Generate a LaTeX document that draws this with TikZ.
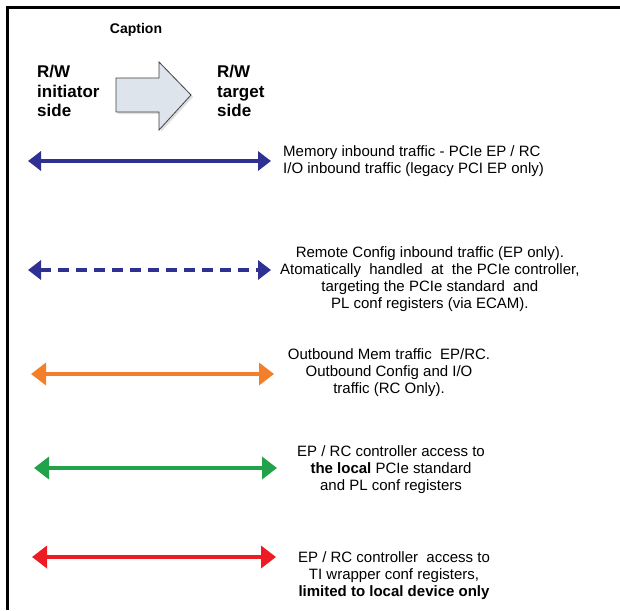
\documentclass[tikz,border=0pt]{standalone}
\usepackage{fontspec}
\setmainfont{Liberation Sans}
\usepackage{tikz}
\usetikzlibrary{positioning, arrows.meta, calc}
\usepackage{xcolor}
\definecolor{trblue}{HTML}{2E3192}
\definecolor{trorange}{HTML}{F47F2A}
\definecolor{trgreen}{HTML}{22A24A}
\definecolor{trred}{HTML}{ED1C24}
\definecolor{capfill}{HTML}{DDE4EB}

\begin{document}
\begin{tikzpicture}[x=1pt, y=-1pt,
    legtext/.style={font=\fontsize{15}{17}\selectfont, inner sep=0pt, align=center},
    rwlabel/.style={font=\fontsize{17}{19.5}\selectfont\bfseries, inner sep=0pt,
                    anchor=west, align=left},
    traffic/.style={line width=3.6pt, {Triangle[length=13pt, width=19pt]}-{Triangle[length=13pt, width=19pt]}},
    bigtraffic/.style={line width=3.6pt, {Triangle[length=15pt, width=22pt]}-{Triangle[length=15pt, width=22pt]}}]
        \useasboundingbox (0,0) rectangle (620,610);
        % frame
        \draw[line width=2.3pt] (620,7.5) -- (7.5,7.5) -- (7.5,610);

        % caption block
        \node[font=\fontsize{14}{16}\selectfont\bfseries, inner sep=0pt] (cap) at (136,30) {Caption};
        \node[rwlabel] (init) at (37,91) {R/W\\initiator\\side};
        \node[rwlabel] (targ) at (217,91) {R/W\\target\\side};
        \fill[gray!25] (118,80) -- (161,80) -- (161,64) -- (193,97) -- (161,132) -- (161,114) -- (118,114) -- cycle;
        \draw[fill=capfill, draw=gray!50!black, line width=0.8pt]
              (116,78) -- (159,78) -- (159,62) -- (191,95) -- (159,130) -- (159,112) -- (116,112) -- cycle;

        % memory inbound
        \coordinate (memL) at (28,161);
        \coordinate (memR) at (271,161);
        \draw[traffic, trblue] (memL) -- (memR);
        \node[legtext, anchor=west, align=left] (memtxt) at (283,161)
              {Memory inbound traffic - PCIe EP / RC\\I/O inbound traffic (legacy PCI EP only)};

        % remote config
        \coordinate (cfgL) at (28,270);
        \coordinate (cfgR) at (271,270);
        \draw[traffic, trblue, dash pattern=on 11pt off 7pt] (cfgL) -- (cfgR);
        \node[legtext, anchor=west] (cfgtxt) at (280,279.5)
              {Remote Config inbound traffic (EP only).\\
               Atomatically\ \ handled\ \ at\ \ the PCIe controller,\\
               targeting the PCIe standard\ \ and\\
               PL conf registers (via ECAM).};

        % outbound
        \coordinate (outL) at (31,374);
        \coordinate (outR) at (274,374);
        \draw[bigtraffic, trorange] (outL) -- (outR);
        \node[legtext] (outtxt) at (389,373)
              {Outbound Mem traffic\ \ EP/RC.\\Outbound Config and I/O\\traffic (RC Only).};

        % local conf
        \coordinate (locL) at (34,468);
        \coordinate (locR) at (277,468);
        \draw[bigtraffic, trgreen] (locL) -- (locR);
        \node[legtext] (loctxt) at (391,470)
              {EP / RC controller access to\\\textbf{the local} PCIe standard\\and PL conf registers};

        % wrapper conf
        \coordinate (wrpL) at (32,557);
        \coordinate (wrpR) at (276,557);
        \draw[bigtraffic, trred] (wrpL) -- (wrpR);
        \node[legtext] (wrptxt) at (394,576)
              {EP / RC controller\ \ access to\\TI wrapper conf registers,\\\textbf{limited to local device only}};
      \end{tikzpicture}
\end{document}
